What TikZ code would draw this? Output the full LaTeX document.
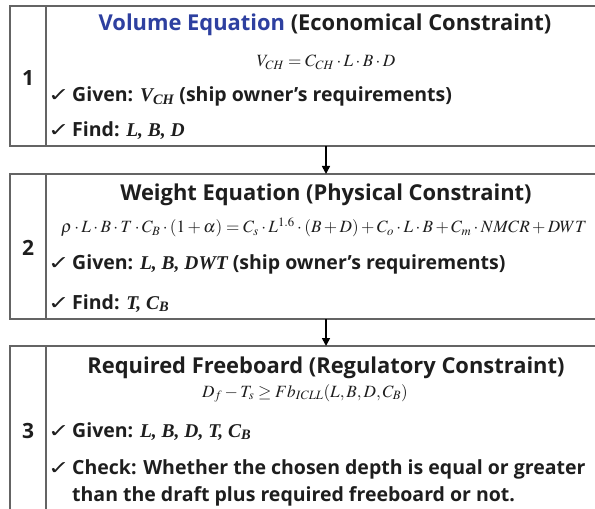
\documentclass[tikz,border=0pt]{standalone}
\usepackage{mathptmx}
\usepackage[no-math]{fontspec}
\setmainfont{Open Sans}
\newfontfamily\tmsfont{Liberation Serif}
\newfontfamily\dvfont{DejaVu Sans}
\usetikzlibrary{arrows.meta}
\definecolor{ttlblue}{RGB}{46,64,160}
\definecolor{framegray}{RGB}{100,100,100}
\definecolor{txtdark}{RGB}{30,30,30}
\newcommand{\chkmark}{\makebox[24bp][l]{\mdseries\dvfont\fontsize{19bp}{19bp}\selectfont\scalebox{1.35}[1]{✓}}}
\newcommand{\varbi}[1]{{\tmsfont\bfseries\itshape #1}}
\tikzset{
  frm/.style={draw=framegray, line width=1.2bp, minimum width=632bp, anchor=north west, inner sep=0pt, outer sep=0pt},
  divl/.style={draw=framegray, line width=1.2bp},
  ttl/.style={font=\fontsize{21.9bp}{26bp}\selectfont\bfseries, text=txtdark, anchor=base, inner sep=0pt},
  num/.style={font=\fontsize{21bp}{24bp}\selectfont\bfseries, text=txtdark, anchor=base, inner sep=0pt},
  itm/.style={font=\fontsize{19.5bp}{22bp}\selectfont\bfseries, text=txtdark, anchor=base west, inner sep=0pt},
  eqn/.style={font=\fontsize{17.2bp}{19bp}\selectfont, text=txtdark, anchor=base, inner sep=0pt},
  arr/.style={line width=1.6bp, -{Triangle[length=8bp,width=8bp]}},
}
\begin{document}
\begin{tikzpicture}[x=1bp,y=-1bp]
\clip (0,0) rectangle (595,509);
\fill[white] (0,0) rectangle (595,509);
% boxes
\node[frm, minimum height=140bp] (b1) at (10,6) {};
\node[frm, minimum height=145bp] (b2) at (10,174) {};
\node[frm, minimum height=200bp] (b3) at (10,346) {};
\coordinate (dv) at (46,0);
\draw[divl] (b1.north -| dv) -- (b1.south -| dv);
\draw[divl] (b2.north -| dv) -- (b2.south -| dv);
\draw[divl] (b3.north -| dv) -- (b3.south -| dv);
% arrows
\coordinate (ax) at (326,0);
\draw[arr] (b1.south -| ax) -- (b2.north -| ax);
\draw[arr] (b2.south -| ax) -- (b3.north -| ax);
% box 1
\node[num] (n1) at (28,86) {1};
\node[ttl] (t1) at (325,31) {{\color{ttlblue}Volume Equation} (Economical Constraint)};
\node[eqn] (e1) at (326,67) {$V_{CH}=C_{CH}\cdot L\cdot B\cdot D$};
\node[itm] (g1) at (48,102) {\chkmark Given: \varbi{V\textsubscript{CH}} (ship owner’s requirements)};
\node[itm] (f1) at (48,137) {\chkmark Find: \varbi{L, B, D}};
% box 2
\node[num] (n2) at (28,255) {2};
\node[ttl] (t2) at (326,201) {Weight Equation (Physical Constraint)};
\node[eqn] (e2) at (324,233) {$\rho\cdot L\cdot B\cdot T\cdot C_B\cdot(1+\alpha)=C_s\cdot L^{1.6}\cdot(B+D)+C_o\cdot L\cdot B+C_m\cdot NMCR+DWT$};
\node[itm] (g2) at (48,269) {\chkmark Given: \varbi{L, B, DWT} (ship owner’s requirements)};
\node[itm] (f2) at (48,309) {\chkmark Find: \varbi{T, C\textsubscript{B}}};
% box 3
\node[num] (n3) at (28,438) {3};
\node[ttl] (t3) at (326,373) {Required Freeboard (Regulatory Constraint)};
\node[eqn] (e3) at (305,397) {$D_f-T_s\geq Fb_{ICLL}(L,B,D,C_B)$};
\node[itm] (g3) at (48,437) {\chkmark Given: \varbi{L, B, D, T, C\textsubscript{B}}};
\node[itm] (c3) at (48,474) {\chkmark Check: Whether the chosen depth is equal or greater};
\node[itm] (c3b) at (72,501) {than the draft plus required freeboard or not.};
\end{tikzpicture}
\end{document}
